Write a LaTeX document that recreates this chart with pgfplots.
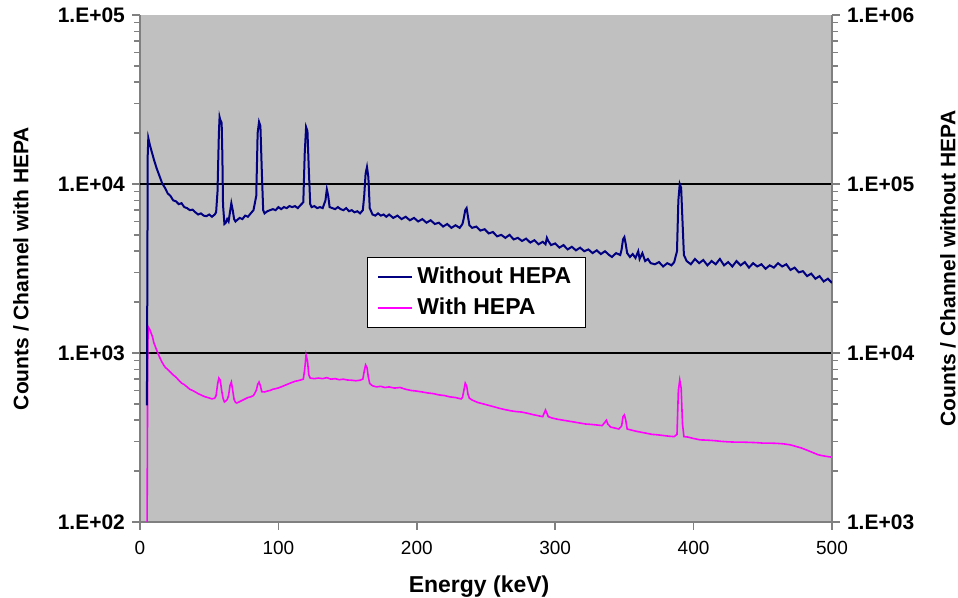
\documentclass[border=0pt]{standalone}
\usepackage{pgfplots}
\pgfplotsset{compat=1.18}
\usepackage{fontspec}
\setmainfont{Liberation Sans}
\definecolor{plotgray}{HTML}{C0C0C0}
\definecolor{axgray}{HTML}{808080}
\definecolor{navyline}{HTML}{000080}
\definecolor{magline}{HTML}{FF00FF}
\begin{document}
\begin{tikzpicture}
\useasboundingbox (-70pt,-38pt) rectangle (409pt,261pt);
\begin{axis}[
  at={(0,0)}, anchor=south west, scale only axis,
  width=346pt, height=253.5pt,
  xmin=0, xmax=500, ymode=log, ymin=100, ymax=100000,
  axis y line*=left, axis x line*=bottom,
  axis line style={axgray, line width=0.75pt},
  axis background/.style={fill=plotgray},
  tick align=outside, major tick length=4pt,
  every tick/.style={axgray, line width=0.75pt},
  xtick={0,100,200,300,400,500},
  xticklabels={0,100,200,300,400,500},
  ytick={100,1000,10000,100000},
  yticklabels={1.E+02,1.E+03,1.E+04,1.E+05},
  minor ytick={}, minor xtick={},
  extra y ticks={1000,10000},
  extra y tick labels={},
  extra y tick style={grid=major, major grid style={black, line width=0.6pt}, major tick length=0pt},
  yticklabel style={font=\fontsize{10.5}{12}\selectfont\bfseries},
  xticklabel style={font=\fontsize{9.5}{11}\selectfont, yshift=-2pt},
  xlabel={Energy (keV)},
  ylabel={Counts / Channel with HEPA},
  xlabel style={font=\fontsize{11.5}{13}\selectfont\bfseries, at={(axis description cs:0.49,-0.128)}, anchor=center},
  ylabel style={font=\fontsize{10.5}{12}\selectfont\bfseries, at={(axis description cs:-0.172,0.5)}, anchor=center, rotate=0},
  clip=true,
]
\addplot[magline, line width=0.8pt] coordinates {
(5,50)(5.6,1100)(6,1425)(7,1380)(8,1313)(9,1250)(10,1150)(12,1042)(14,950)(16,880)(18,826)(20,800)(22,770)(24,741)(26,720)(28,690)(30,664)(32,650)(34,630)(36,610)(38,600)(40,588)(42,575)(44,565)(46,555)(48,548)(50,542)(52,535)(54,540)(55,560)(56,650)(57,711)(58,690)(59,600)(60,540)(61,513)(62,520)(63,530)(64,560)(65,640)(66,673)(67,600)(68,530)(69,510)(70,506)(72,515)(74,525)(76,535)(78,545)(80,550)(82,560)(84,600)(85,650)(86,673)(87,640)(88,590)(90,588)(92,595)(94,600)(96,610)(98,615)(100,621)(102,630)(104,640)(106,650)(108,660)(110,670)(112,680)(114,685)(116,692)(118,700)(119,800)(120,973)(121,900)(122,740)(123,711)(126,705)(129,711)(132,705)(135,715)(138,700)(141,705)(144,695)(147,700)(150,692)(153,690)(156,685)(159,690)(161,700)(162,780)(163,849)(164,820)(165,720)(166,660)(168,640)(171,630)(174,635)(177,625)(180,630)(184,620)(188,625)(192,610)(196,600)(200,595)(204,588)(208,580)(212,575)(216,565)(220,560)(224,550)(228,545)(232,535)(233,545)(234,600)(235,664)(236,640)(237,570)(238,540)(240,527)(244,510)(248,500)(252,490)(256,480)(260,470)(264,462)(268,455)(272,450)(276,447)(280,440)(284,432)(288,425)(291,420)(292,440)(293,460)(294,440)(295,420)(298,412)(302,405)(306,400)(310,395)(314,390)(318,385)(322,380)(326,378)(330,375)(334,372)(336,390)(337,400)(338,380)(340,365)(343,360)(346,355)(348,370)(349,420)(350,430)(351,400)(352,355)(355,350)(358,345)(362,340)(366,335)(370,330)(374,328)(378,325)(382,322)(386,320)(388,330)(389,600)(390,692)(391,620)(392,380)(393,320)(396,318)(400,312)(405,306)(410,305)(415,303)(420,300)(425,298)(430,297)(435,297)(440,296)(445,295)(450,293)(455,293)(460,292)(465,290)(470,286)(474,280)(478,274)(482,266)(486,258)(490,250)(494,246)(498,243)(500,242)
};
\end{axis}
\begin{axis}[
  at={(0,0)}, anchor=south west, scale only axis,
  width=346pt, height=253.5pt,
  xmin=0, xmax=500, ymode=log, ymin=1000, ymax=1000000,
  axis y line*=right, axis x line=none,
  axis line style={axgray, line width=0.75pt},
  tick align=outside, major tick length=4pt,
  every tick/.style={axgray, line width=0.75pt},
  ytick={1000,10000,100000,1000000},
  yticklabels={1.E+03,1.E+04,1.E+05,1.E+06},
  minor ytick={},
  yticklabel style={font=\fontsize{10.5}{12}\selectfont\bfseries},
  ylabel={Counts / Channel without HEPA},
  ylabel style={font=\fontsize{10.5}{12}\selectfont\bfseries, at={(axis description cs:1.1676,0.5)}, anchor=center, rotate=0},
  legend style={at={(rel axis cs:0.328,0.523)}, anchor=north west, draw=black, fill=white,
    font=\fontsize{11.5}{13}\selectfont\bfseries, inner xsep=5pt, inner ysep=3pt, row sep=1.5pt},
  legend cell align=left,
  legend image code/.code={\draw[#1] (0pt,0pt) -- (17pt,0pt);},
  clip=true,
]
\addplot[navyline, line width=1pt] coordinates {
(5,4900)(5.6,150000)(6,187000)(7,172000)(8,160000)(9,150000)(10,140000)(12,124000)(14,112000)(16,101000)(18,95000)(20,88000)(22,85000)(24,80000)(26,79000)(28,76000)(30,77000)(32,73000)(34,72000)(36,70000)(38,70500)(40,68000)(42,66000)(44,67000)(46,65000)(48,64500)(50,66000)(52,64000)(54,66000)(55,68000)(56,90000)(57,200000)(57.5,249000)(58,240000)(59,230000)(59.5,150000)(60,75000)(61,58000)(62,59000)(63,62000)(64,60000)(65,68000)(66,77000)(67,70000)(68,62000)(69,60000)(70,61000)(72,63000)(74,62000)(76,65000)(78,64000)(80,67000)(82,70000)(84,85000)(85,200000)(86,233000)(87,220000)(88,120000)(89,70000)(90,67000)(92,69000)(94,70000)(96,71000)(98,70000)(100,73000)(102,71000)(104,73000)(106,72000)(108,74000)(110,73000)(112,74000)(114,72000)(116,75000)(118,78000)(119,150000)(120,217000)(121,205000)(122,120000)(123,76000)(124,73000)(126,74000)(128,72000)(130,73000)(132,72000)(134,80000)(135,93000)(136,85000)(137,73000)(139,72000)(141,71000)(143,73000)(145,71000)(147,70000)(149,72000)(151,69000)(153,70000)(155,68000)(157,69000)(159,67000)(161,70000)(162,85000)(163,115000)(164,126000)(165,110000)(166,72000)(168,66000)(170,65000)(172,67000)(174,65000)(176,66000)(178,64000)(180,66000)(183,63000)(186,65000)(189,62000)(192,64000)(195,61000)(198,63000)(201,60000)(204,62000)(207,59000)(210,61000)(213,58000)(216,59000)(219,56000)(222,58000)(225,55000)(228,57000)(231,55000)(233,58000)(234,63000)(235,70000)(236,72000)(237,64000)(238,57000)(240,55000)(243,56000)(246,53000)(249,54000)(252,51000)(255,52000)(258,49000)(261,50000)(264,48000)(267,50000)(270,47000)(273,48000)(276,46000)(279,47500)(282,45000)(285,46500)(288,44000)(291,45500)(293,44000)(294,48000)(295,46000)(297,43500)(300,44500)(303,42000)(306,43500)(309,41000)(312,42500)(315,40500)(318,42000)(321,40000)(324,41000)(327,39000)(330,40500)(333,38500)(336,40000)(339,38000)(341,37000)(344,39000)(347,38000)(348,41000)(349,47000)(350,48500)(351,44000)(352,39000)(354,37000)(356,38500)(358,36500)(360,40000)(361,36000)(363,39000)(365,35000)(367,36000)(369,34000)(372,33500)(375,34500)(378,32500)(381,34000)(384,33000)(386,34500)(388,40000)(389,80000)(390,100000)(391,95000)(392,60000)(393,38000)(395,35000)(398,33500)(401,36000)(404,34000)(407,35500)(410,33000)(413,35000)(416,33500)(419,36000)(422,33000)(425,34500)(428,32500)(431,35000)(434,33000)(437,34500)(440,32000)(443,34000)(446,32500)(449,33500)(452,31500)(455,33000)(458,32000)(461,34000)(464,32500)(467,33500)(470,31000)(473,32000)(476,30000)(479,30500)(482,28500)(485,29500)(488,27500)(491,28500)(494,26500)(497,27500)(500,26000)
};
\addlegendentry{Without HEPA}
\addlegendimage{magline, line width=0.8pt}
\addlegendentry{With HEPA}
\end{axis}
\end{tikzpicture}
\end{document}
